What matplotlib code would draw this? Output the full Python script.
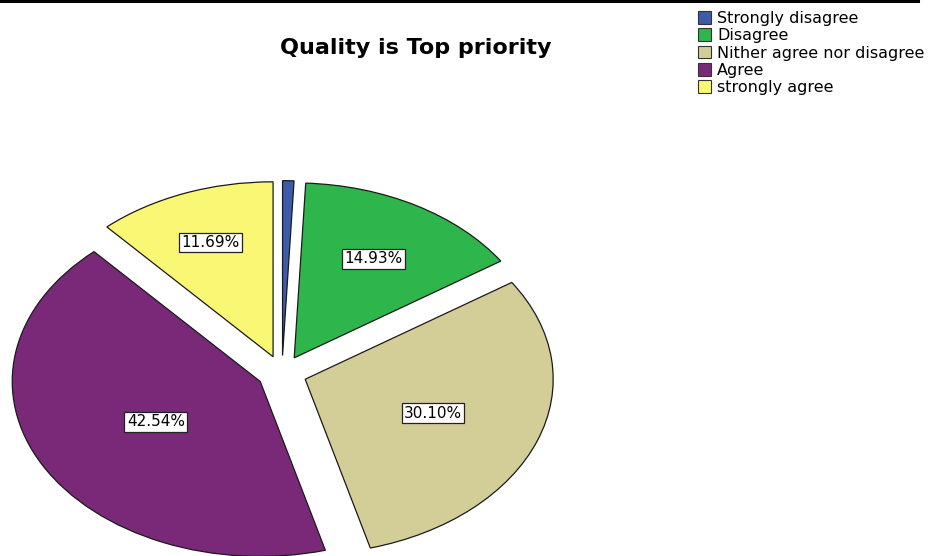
import matplotlib
matplotlib.use('Agg')
from matplotlib import pyplot as plt
from matplotlib.lines import Line2D
from matplotlib.patches import Patch
import numpy as np

# response shares (percent)
categories = ['Strongly disagree', 'Disagree', 'Nither agree nor disagree', 'Agree', 'strongly agree']
shares = [0.74, 14.93, 30.10, 42.54, 11.69]
colors = ['#3E5BA9', '#2EB64C', '#D3CE98', '#7A2979', '#FAF775']
title = 'Quality is Top priority'

# radial position of each percentage box, as fraction of radius
label_r = [0.6, 0.65, 0.55, 0.48, 0.70]

plt.rcParams['font.family'] = ['DejaVu Sans']

fig = plt.figure(figsize=(9.44, 5.56), dpi=100)

# pie is stretched sideways like the original picture
ax = fig.add_axes([-0.0428, -0.080, 0.683, 0.818])
wedges, texts, autotexts = ax.pie(
    shares, colors=colors, startangle=90, counterclock=False,
    explode=[0.1] * len(shares),
    autopct=lambda p: '' if p < 1 else '%.2f%%' % p,
    wedgeprops=dict(edgecolor='#1a1a1a', linewidth=0.9),
    textprops=dict(fontsize=11))
ax.set_aspect('auto')
ax.set_xlim(-1.3, 1.3)
ax.set_ylim(-1.3, 1.3)

for w, t, r in zip(wedges, autotexts, label_r):
    mid = np.deg2rad((w.theta1 + w.theta2) / 2)
    cx, cy = w.center
    t.set_position((cx + r * np.cos(mid), cy + r * np.sin(mid)))
    t.set_bbox(dict(facecolor='white', edgecolor='#222222', linewidth=0.9, pad=1.6))

fig.text(0.44, 1 - 48 / 556, title, fontsize=16, fontweight='bold', ha='center', va='center')

handles = [Patch(facecolor=c, edgecolor='#333333', linewidth=0.8) for c in colors]
fig.legend(handles, categories, loc='upper left', bbox_to_anchor=(689 / 944, 1 - 2 / 556),
           frameon=False, fontsize=11.5, handlelength=0.85, handleheight=0.85,
           handletextpad=0.35, labelspacing=0.15, borderpad=0.05)

# thick rule along the top edge
fig.add_artist(Line2D([0, 918 / 944], [1 - 1.2 / 556, 1 - 1.2 / 556], color='black', linewidth=2.2))

plt.savefig('out.png', dpi=100)
